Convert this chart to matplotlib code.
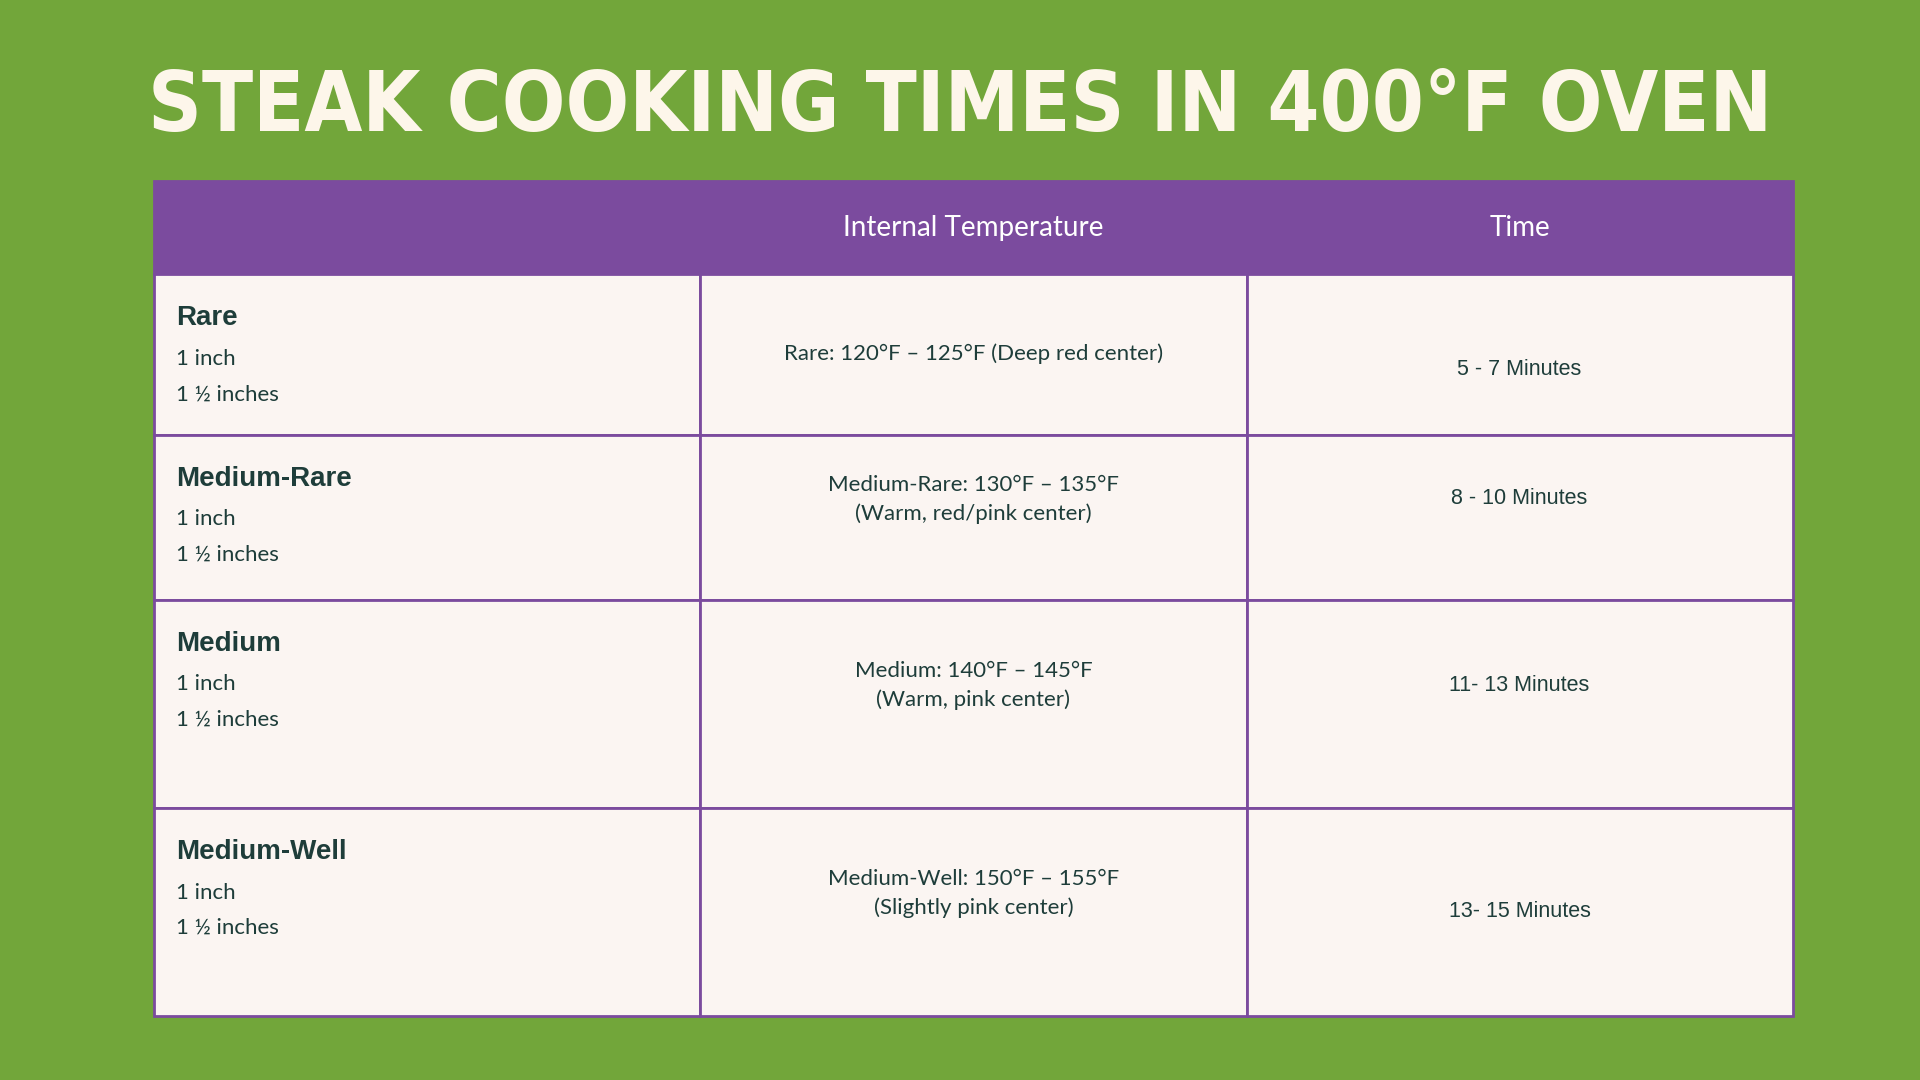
import matplotlib
matplotlib.use("Agg")
import matplotlib.pyplot as plt
from matplotlib.patches import Rectangle

title = "STEAK COOKING TIMES IN 400°F OVEN"
headers = ["", "Internal Temperature", "Time"]
doneness = ["Rare", "Medium-Rare", "Medium", "Medium-Well"]
sizes = ["1 inch", "1 ½ inches"]
temps = ["Rare: 120°F – 125°F (Deep red center)",
         "Medium-Rare: 130°F – 135°F\n(Warm, red/pink center)",
         "Medium: 140°F – 145°F\n(Warm, pink center)",
         "Medium-Well: 150°F – 155°F\n(Slightly pink center)"]
times = ["5 - 7 Minutes", "8 - 10 Minutes", "11- 13 Minutes", "13- 15 Minutes"]

# layout (reference pixel space 1568x882)
W, H = 1568, 882
col_x = [126, 572, 1018, 1464]
row_y = [148, 224, 355, 490, 660, 830]
time_y = [302, 407, 560, 744]
temp_y = [289, 408, 560, 730]

GREEN = "#72a63a"
PURPLE = "#7b4b9e"
CELL = "#fbf5f2"
TEXT = "#1e3d3a"

fig = plt.figure(figsize=(19.2, 10.8), dpi=100)
fig.patch.set_facecolor(GREEN)
ax = fig.add_axes([0, 0, 1, 1])
ax.set_xlim(0, W)
ax.set_ylim(H, 0)
ax.axis("off")

ax.text(W / 2, 88, title, ha="center", va="center", fontsize=60,
        fontweight="bold", color="#fdf6ea", family="DejaVu Sans",
        fontstretch="condensed")

# header
ax.add_patch(Rectangle((col_x[0], row_y[0]), col_x[-1] - col_x[0], row_y[1] - row_y[0],
                       facecolor=PURPLE, edgecolor=PURPLE, lw=2))
for i, h in enumerate(headers):
    ax.text((col_x[i] + col_x[i + 1]) / 2, (row_y[0] + row_y[1]) / 2, h,
            ha="center", va="center", fontsize=20, color="white", family="Lato")

for r in range(4):
    y0, y1 = row_y[r + 1], row_y[r + 2]
    for c in range(3):
        ax.add_patch(Rectangle((col_x[c], y0), col_x[c + 1] - col_x[c], y1 - y0,
                               facecolor=CELL, edgecolor=PURPLE, lw=2))
    ax.text(144, y0 + 36, doneness[r], ha="left", va="center", fontsize=20,
            fontweight="bold", color=TEXT, family="Liberation Sans")
    for k, s in enumerate(sizes):
        ax.text(144, y0 + 69 + 29 * k, s, ha="left", va="center", fontsize=16,
                color=TEXT, family="Lato")
    ax.text((col_x[1] + col_x[2]) / 2, temp_y[r], temps[r], ha="center", va="center",
            fontsize=16, color=TEXT, family="Lato", linespacing=1.5)
    ax.text((col_x[2] + col_x[3]) / 2, time_y[r], times[r], ha="center", va="center",
            fontsize=15.5, color=TEXT, family="Liberation Sans")

fig.savefig("out.png", dpi=100, facecolor=GREEN)
